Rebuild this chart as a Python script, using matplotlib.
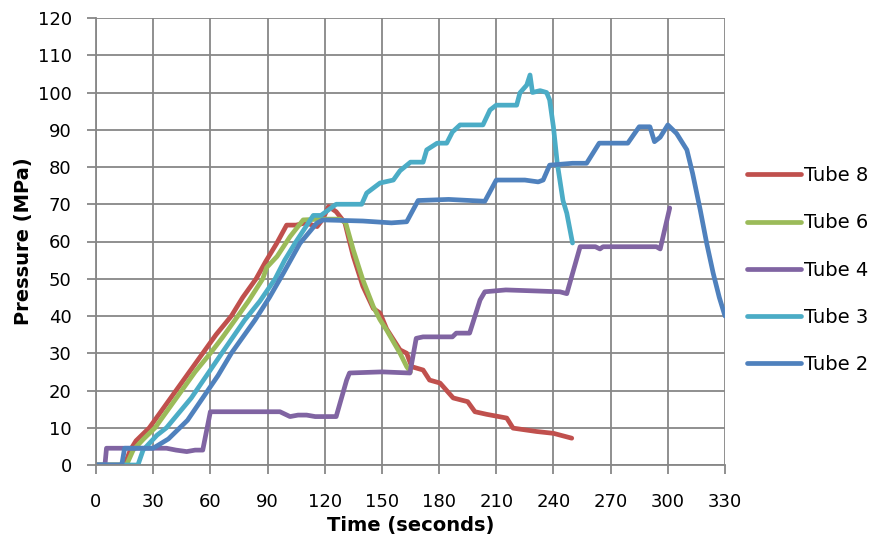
import matplotlib
matplotlib.use('Agg')
import matplotlib.pyplot as plt

# Tube 8 (red)
t8_time = [0, 15, 18, 21, 28, 35, 42, 49, 56, 63, 71, 77, 84, 89, 94.8, 100, 105, 110,
           116, 119, 122, 126, 130.6, 133, 135, 140, 145.5, 149, 152.5, 159.5, 163, 165.6,
           171.6, 175, 180.5, 187.4, 195, 198.8, 205, 215.5, 218.8, 231, 240, 249.6]
t8_press = [0, 0, 4, 6.5, 10, 15, 20, 25, 30, 35, 40, 45, 50, 54.6, 59.5, 64.4, 64.4, 65,
            64, 66, 69.4, 68, 65, 60, 56, 48, 42, 40.8, 36.5, 30.9, 30, 26.4,
            25.5, 22.8, 22, 18, 17, 14.3, 13.6, 12.6, 9.9, 9, 8.5, 7.2]

# Tube 6 (green)
t6_time = [0, 16, 19.5, 25, 31, 38, 45, 52, 60, 66, 72.9, 80, 87.5, 89.5, 95, 101.8, 108.7, 118,
           128, 131, 135, 140, 145.5, 149, 152.5, 159.5, 163, 165]
t6_press = [0, 0, 4, 7, 10, 15, 20, 25, 30, 34, 38.9, 44, 50, 53, 56, 61.3, 65.8, 66,
            66, 65, 57.7, 49.7, 42.5, 39, 36.2, 30, 26.4, 25]

# Tube 4 (purple)
t4_time = [0, 4.7, 5.5, 37, 42, 47.6, 52, 56, 60, 96.5, 101.8, 106, 110.5, 115, 126, 131.5, 133,
           150, 164.7, 168, 171.6, 187, 189, 196, 201.5, 204, 215, 243.4, 247, 254, 262, 264.4,
           266, 294, 296, 301]
t4_press = [0, 0, 4.5, 4.5, 4, 3.6, 4, 4, 14.3, 14.3, 13, 13.4, 13.4, 13, 13, 22.8, 24.7,
            25, 24.7, 34, 34.4, 34.4, 35.4, 35.4, 44.3, 46.5, 47, 46.5, 46, 58.6, 58.6, 58,
            58.6, 58.6, 58, 69]

# Tube 3 (cyan)
t3_time = [0, 22, 24.7, 32, 37, 50, 58, 66, 78, 86, 94, 99, 105, 114, 118, 126, 139.4, 142,
           149, 156, 159.5, 165, 171.6, 173.5, 179, 184, 187, 191, 203, 206.7, 210, 220.7,
           222.4, 226, 227.7, 229, 233, 236.4, 238, 240, 242, 245, 247, 250]
t3_press = [0, 0, 4, 8, 10, 18, 24, 30, 38.9, 44, 50, 55, 60, 67, 67, 70, 70, 73,
            75.7, 76.5, 79, 81.3, 81.3, 84.6, 86.4, 86.4, 89.4, 91.3, 91.3, 95.3, 96.6, 96.6,
            99.9, 102, 104.7, 100, 100.5, 100, 98, 90.7, 81, 71, 67.6, 59.6]

# Tube 2 (blue)
t2_time = [0, 13.5, 15, 30, 38, 44, 48, 56, 64, 71, 83.4, 91, 98.3, 107, 115.8, 119, 140, 155,
           163, 169, 185, 204, 210, 225, 232, 234.6, 238, 250, 257.4, 264, 279, 285, 290.6,
           293, 296, 300, 304.6, 310, 313, 317, 320.4, 323.8, 327, 330]
t2_press = [0, 0, 4.5, 4.5, 7, 10, 12, 18, 24, 30, 38.9, 45, 51.5, 59.5, 64.9, 65.8, 65.5, 65,
            65.3, 71, 71.3, 70.8, 76.5, 76.5, 76, 76.5, 80.5, 81, 81, 86.4, 86.4, 90.8, 90.8,
            86.8, 88, 91.3, 89, 84.6, 78.3, 68.5, 59.5, 51.5, 45, 40]

series = [
    ('Tube 8', t8_time, t8_press, '#C0504D'),
    ('Tube 6', t6_time, t6_press, '#9BBB59'),
    ('Tube 4', t4_time, t4_press, '#8064A2'),
    ('Tube 3', t3_time, t3_press, '#4BACC6'),
    ('Tube 2', t2_time, t2_press, '#4F81BD'),
]

x_ticks = list(range(0, 331, 30))
y_ticks = list(range(0, 121, 10))

plt.rcParams['font.family'] = ['DejaVu Sans']

fig = plt.figure(figsize=(8.78, 5.39), dpi=100)
ax = fig.add_axes([96 / 878, 1 - 465 / 539, 629 / 878, 447 / 539])

for label, t, p, color in series:
    ax.plot(t, p, color=color, lw=3.4, label=label,
            solid_joinstyle='round', solid_capstyle='round')

ax.set_xlim(0, 330)
ax.set_ylim(0, 120)
ax.set_xticks(x_ticks)
ax.set_yticks(y_ticks)
ax.grid(True, color='#878787', lw=1.3)
ax.set_axisbelow(True)
for side in ['top', 'right']:
    ax.spines[side].set_visible(False)
for side in ['left', 'bottom']:
    ax.spines[side].set_color('#878787')
    ax.spines[side].set_linewidth(1.3)
ax.tick_params(axis='both', colors='#878787', length=6.5, width=1.3,
               labelcolor='black', labelsize=13)
ax.tick_params(axis='y', pad=11)
ax.tick_params(axis='x', pad=14)

ax.set_xlabel('Time (seconds)', fontsize=14, fontweight='bold', labelpad=3)
ax.set_ylabel('Pressure (MPa)', fontsize=14, fontweight='bold', labelpad=3)

ax.legend(loc='center left', bbox_to_anchor=(739 / 878, 1 - 270 / 539),
          bbox_transform=fig.transFigure, frameon=False, fontsize=14,
          handlelength=2.8, handletextpad=0.15, labelspacing=1.45,
          borderaxespad=0)

fig.savefig('out.png', dpi=100)
